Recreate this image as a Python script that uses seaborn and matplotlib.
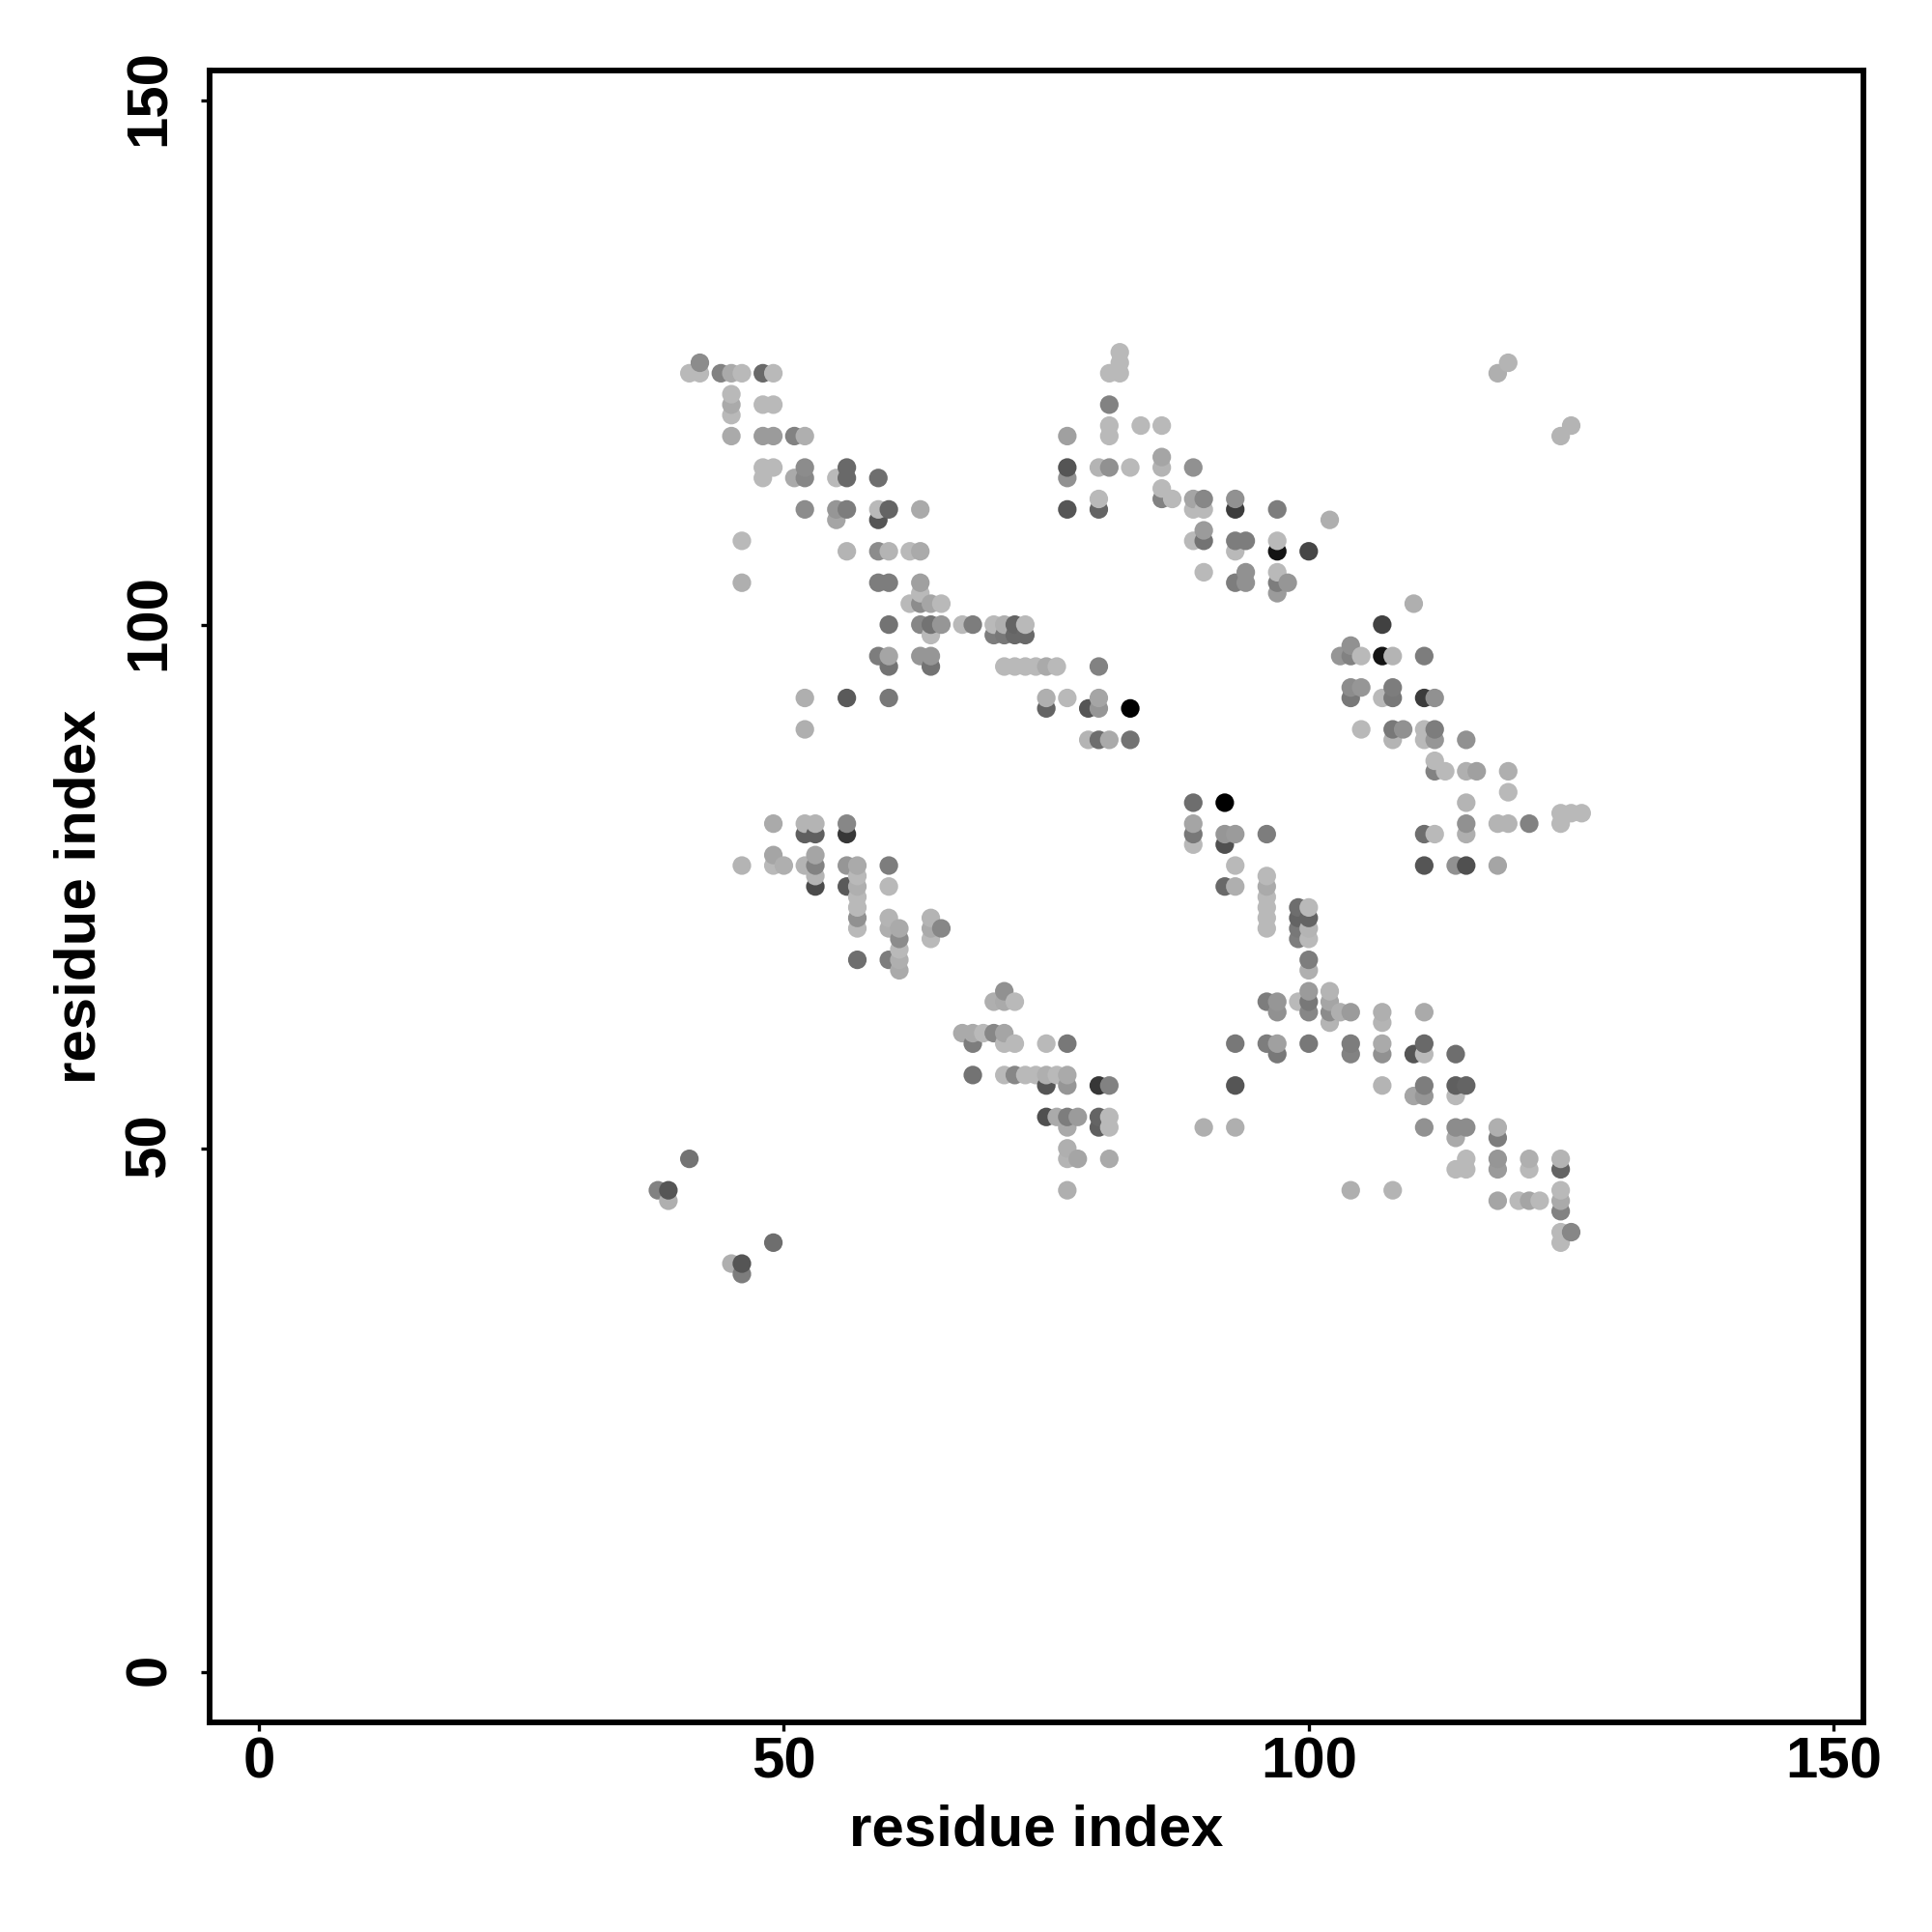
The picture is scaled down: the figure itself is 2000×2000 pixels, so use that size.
import matplotlib
matplotlib.use("Agg")
import matplotlib.pyplot as plt
from matplotlib.transforms import ScaledTranslation
import pandas as pd
import seaborn as sns

# one source line per row of the contact map (y from top to bottom)
contact_x = [
    82,
    42, 82, 119,
    41, 42, 44, 45, 46, 48, 49, 81, 82, 118,
    45,
    45, 48, 49, 81,
    45,
    81, 84, 86, 125,
    45, 48, 49, 51, 52, 77, 81, 124,
    86,
    48, 49, 52, 56, 77, 80, 81, 83, 86, 89,
    48, 51, 52, 55, 56, 59, 77,
    86,
    80, 86, 87, 89, 90, 93,
    52, 55, 56, 59, 60, 63, 77, 80, 89, 90, 93, 97,
    55, 59, 102,
    90,
    46, 89, 90, 93, 94, 97,
    56, 59, 60, 62, 63, 93, 97, 100,
    90, 94, 97,
    46, 59, 60, 63, 93, 94, 97, 98,
    63, 97,
    62, 63, 64, 65, 110,
    60, 63, 64, 65, 67, 68, 70, 71, 72, 73, 107,
    64, 70, 71, 72, 73,
    104,
    59, 60, 63, 64, 103, 104, 105, 107, 108, 111,
    60, 64, 71, 72, 73, 74, 75, 76, 80,
    104, 105, 108,
    52, 56, 60, 75, 77, 80, 104, 107, 108, 111, 112,
    75, 79, 80, 83,
    52, 105, 108, 109, 111, 112,
    79, 80, 81, 83, 108, 111, 112, 115,
    112,
    112, 113, 115, 116, 119,
    119,
    89, 92, 115,
    124, 125, 126,
    49, 52, 53, 56, 89, 115, 118, 119, 121, 124,
    52, 53, 56, 89, 92, 93, 96, 111, 112, 115,
    89, 92,
    49, 53,
    46, 49, 50, 52, 53, 56, 57, 60, 93, 111, 114, 115, 118,
    53, 57, 96,
    53, 56, 57, 60, 92, 93, 96,
    57, 96,
    57, 96, 99, 100,
    57, 60, 64, 96, 99, 100,
    57, 60, 61, 64, 65, 96, 99, 100,
    61, 64, 99, 100,
    61,
    57, 60, 61, 100,
    61, 100,
    71, 100, 102,
    70, 71, 72, 96, 97, 99, 100, 102,
    97, 100, 102, 103, 104, 107, 111,
    102, 107,
    67, 68, 69, 70, 71,
    68, 71, 72, 75, 77, 93, 96, 97, 100, 104, 107, 111,
    97, 104, 107, 110, 111, 114,
    68, 71, 72, 73, 74, 75, 76, 77,
    75, 77, 80, 81, 93, 107, 111, 114, 115,
    110, 111, 114,
    75, 76, 77, 78, 80, 81,
    77, 80, 81, 90, 93, 111, 114, 115, 118,
    114, 118,
    77,
    41, 77, 78, 81, 115, 118, 121, 124,
    114, 115, 118, 121, 124,
    38, 39, 77, 104, 108, 124,
    39, 118, 120, 121, 122, 124,
    124,
    124, 125,
    49, 124,
    45, 46,
    46,
]
contact_y = [
    126,
    125, 125, 125,
    124, 124, 124, 124, 124, 124, 124, 124, 124, 124,
    122,
    121, 121, 121, 121,
    120,
    119, 119, 119, 119,
    118, 118, 118, 118, 118, 118, 118, 118,
    116,
    115, 115, 115, 115, 115, 115, 115, 115, 115, 115,
    114, 114, 114, 114, 114, 114, 114,
    113,
    112, 112, 112, 112, 112, 112,
    111, 111, 111, 111, 111, 111, 111, 111, 111, 111, 111, 111,
    110, 110, 110,
    109,
    108, 108, 108, 108, 108, 108,
    107, 107, 107, 107, 107, 107, 107, 107,
    105, 105, 105,
    104, 104, 104, 104, 104, 104, 104, 104,
    103, 103,
    102, 102, 102, 102, 102,
    100, 100, 100, 100, 100, 100, 100, 100, 100, 100, 100,
    99, 99, 99, 99, 99,
    98,
    97, 97, 97, 97, 97, 97, 97, 97, 97, 97,
    96, 96, 96, 96, 96, 96, 96, 96, 96,
    94, 94, 94,
    93, 93, 93, 93, 93, 93, 93, 93, 93, 93, 93,
    92, 92, 92, 92,
    90, 90, 90, 90, 90, 90,
    89, 89, 89, 89, 89, 89, 89, 89,
    87,
    86, 86, 86, 86, 86,
    84,
    83, 83, 83,
    82, 82, 82,
    81, 81, 81, 81, 81, 81, 81, 81, 81, 81,
    80, 80, 80, 80, 80, 80, 80, 80, 80, 80,
    79, 79,
    78, 78,
    77, 77, 77, 77, 77, 77, 77, 77, 77, 77, 77, 77, 77,
    76, 76, 76,
    75, 75, 75, 75, 75, 75, 75,
    74, 74,
    73, 73, 73, 73,
    72, 72, 72, 72, 72, 72,
    71, 71, 71, 71, 71, 71, 71, 71,
    70, 70, 70, 70,
    69,
    68, 68, 68, 68,
    67, 67,
    65, 65, 65,
    64, 64, 64, 64, 64, 64, 64, 64,
    63, 63, 63, 63, 63, 63, 63,
    62, 62,
    61, 61, 61, 61, 61,
    60, 60, 60, 60, 60, 60, 60, 60, 60, 60, 60, 60,
    59, 59, 59, 59, 59, 59,
    57, 57, 57, 57, 57, 57, 57, 57,
    56, 56, 56, 56, 56, 56, 56, 56, 56,
    55, 55, 55,
    53, 53, 53, 53, 53, 53,
    52, 52, 52, 52, 52, 52, 52, 52, 52,
    51, 51,
    50,
    49, 49, 49, 49, 49, 49, 49, 49,
    48, 48, 48, 48, 48,
    46, 46, 46, 46, 46, 46,
    45, 45, 45, 45, 45, 45,
    44,
    42, 42,
    41, 41,
    39, 39,
    38,
]
# grey level 0-255 of each point
contact_shade = [
    185,
    140, 185, 180,
    185, 185, 130, 170, 185, 105, 185, 185, 185, 175,
    185,
    170, 185, 185, 130,
    185,
    185, 185, 185, 180,
    170, 155, 155, 130, 175, 160, 185, 180,
    165,
    185, 185, 140, 105, 85, 180, 145, 185, 180, 145,
    185, 170, 135, 185, 105, 110, 145,
    185,
    185, 130, 185, 165, 135, 145,
    140, 150, 125, 185, 100, 170, 85, 100, 185, 185, 60, 125,
    165, 85, 175,
    155,
    185, 185, 115, 125, 125, 185,
    180, 140, 180, 185, 170, 185, 20, 70,
    185, 145, 185,
    175, 125, 125, 160, 125, 145, 125, 150,
    185, 155,
    185, 140, 165, 185, 175,
    115, 135, 115, 150, 185, 125, 185, 175, 100, 185, 65,
    185, 125, 120, 105, 105,
    145,
    125, 165, 150, 150, 150, 130, 185, 20, 180, 125,
    115, 115, 185, 185, 185, 185, 170, 185, 130,
    140, 150, 125,
    175, 90, 120, 175, 185, 165, 120, 185, 120, 60, 145,
    100, 85, 150, 0,
    175, 185, 120, 145, 185, 125,
    180, 110, 170, 115, 180, 185, 150, 145,
    185,
    130, 185, 175, 160, 175,
    185,
    110, 0, 180,
    185, 185, 185,
    170, 180, 180, 135, 165, 145, 180, 180, 130, 185,
    95, 95, 55, 120, 150, 155, 125, 110, 185, 175,
    185, 80,
    165, 165,
    180, 185, 175, 180, 130, 150, 170, 125, 185, 85, 145, 80, 165,
    180, 185, 185,
    75, 90, 175, 185, 105, 175, 170,
    185, 185,
    185, 185, 110, 185,
    145, 180, 180, 185, 100, 100,
    185, 175, 170, 170, 135, 185, 120, 180,
    140, 185, 125, 185,
    185,
    110, 125, 175, 125,
    170, 175,
    145, 155, 180,
    175, 170, 185, 125, 150, 185, 120, 165,
    145, 135, 140, 175, 155, 175, 170,
    180, 180,
    170, 170, 185, 135, 165,
    125, 185, 185, 185, 120, 120, 125, 160, 120, 125, 170, 105,
    120, 130, 145, 85, 185, 110,
    115, 185, 135, 185, 185, 175, 185, 170,
    85, 150, 55, 130, 85, 180, 125, 95, 100,
    165, 150, 185,
    80, 170, 125, 155, 100, 185,
    170, 95, 185, 175, 175, 145, 140, 140, 175,
    170, 125,
    175,
    115, 180, 165, 170, 185, 150, 175, 180,
    185, 185, 155, 185, 100,
    130, 85, 175, 175, 180, 185,
    175, 165, 185, 165, 185, 170,
    130,
    185, 135,
    110, 185,
    175, 85,
    125,
]
tick_values = [0, 50, 100, 150]

contacts = pd.DataFrame({"x": contact_x, "y": contact_y, "shade": contact_shade})
contacts = contacts.sort_values(["x", "y"])
grey_map = {s: (s / 255, s / 255, s / 255) for s in contacts["shade"].unique()}

sns.set_style("white")
plt.rcParams["font.family"] = ["Liberation Sans", "DejaVu Sans"]

fig = plt.figure(figsize=(10, 10), dpi=200)
ax = fig.add_axes([0.1085, 0.1085, 0.8558, 0.855])

sns.scatterplot(data=contacts, x="x", y="y", hue="shade", palette=grey_map,
                s=48, linewidth=0, legend=False, ax=ax)

ax.set_xlim(-4.7, 152.8)
ax.set_ylim(-4.8, 152.9)
ax.set_xticks(tick_values)
ax.set_yticks(tick_values)
ax.tick_params(axis="both", length=3.2, width=1.2, color="black", left=True,
               bottom=True, labelsize=21.6, labelcolor="black")
ax.tick_params(axis="x", pad=2)
ax.tick_params(axis="y", pad=9)
for lab in ax.get_xticklabels():
    lab.set_fontweight("bold")
# y labels sit a little above their ticks in the reference
nudge = ScaledTranslation(0, 1.1 / 72, fig.dpi_scale_trans)
for lab in ax.get_yticklabels():
    lab.set_fontweight("bold")
    lab.set_rotation(90)
    lab.set_va("center")
    lab.set_transform(lab.get_transform() + nudge)
for side in ax.spines.values():
    side.set_visible(True)
    side.set_color("black")
    side.set_linewidth(2.1)

ax.set_xlabel("residue index", fontsize=21.6, fontweight="bold", color="black", labelpad=5.5)
ax.set_ylabel("residue index", fontsize=21.6, fontweight="bold", color="black", labelpad=6.5)

fig.savefig("out.png", dpi=200, facecolor="white")
